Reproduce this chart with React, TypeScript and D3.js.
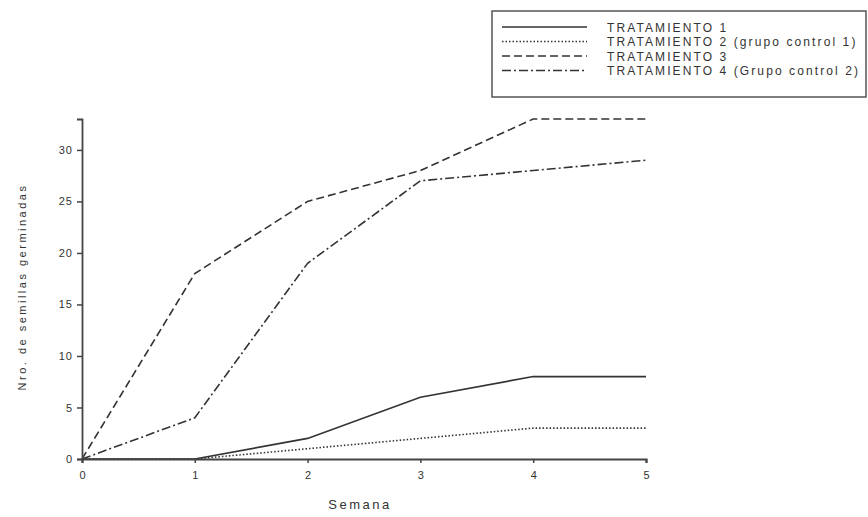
import React, { useEffect, useRef } from 'react';
import * as d3 from 'd3';

const weeks = [0, 1, 2, 3, 4, 5];
const tratamiento1 = [0, 0, 2, 6, 8, 8];
const tratamiento2 = [0, 0, 1, 2, 3, 3];
const tratamiento3 = [0, 18, 25, 28, 33, 33];
const tratamiento4 = [0, 4, 19, 27, 28, 29];
const seriesNames = [
  'TRATAMIENTO 1',
  'TRATAMIENTO 2 (grupo control 1)',
  'TRATAMIENTO 3',
  'TRATAMIENTO 4 (Grupo control 2)',
];
const yTicks = [0, 5, 10, 15, 20, 25, 30];

const dashes = ['none', '1.5,2', '8,4', '9,3,2,3'];

const App = () => {
  const svgRef = useRef<SVGSVGElement>(null);
  const width = 868;
  const height = 517;
  const margin = { top: 119, right: 222, bottom: 58, left: 82 };

  useEffect(() => {
    const svg = d3.select(svgRef.current);
    svg.selectAll('*').remove();

    const x = d3.scaleLinear().domain([0, 5]).range([margin.left, width - margin.right]);
    const y = d3.scaleLinear().domain([0, 33]).range([height - margin.bottom, margin.top]);

    const font = 'Liberation Sans, Arial, sans-serif';
    const axisColor = '#444';

    const all = [tratamiento1, tratamiento2, tratamiento3, tratamiento4];
    const line = d3.line<number>().x((_, i) => x(weeks[i])).y(d => y(d));

    all.forEach((vals, i) => {
      svg.append('path')
        .datum(vals)
        .attr('d', line)
        .attr('fill', 'none')
        .attr('stroke', '#333')
        .attr('stroke-width', 1.6)
        .attr('stroke-dasharray', dashes[i]);
    });

    // y axis
    const yAxis = svg.append('g')
      .attr('transform', `translate(${margin.left},0)`)
      .call(d3.axisLeft(y).tickValues(yTicks).tickSize(5).tickPadding(4));
    yAxis.select('.domain').attr('stroke', axisColor).attr('stroke-width', 1.8);
    yAxis.selectAll('.tick line').attr('stroke', axisColor).attr('stroke-width', 1.5);
    yAxis.selectAll('.tick text')
      .attr('font-family', font).attr('font-size', 11).attr('fill', '#333')
      .attr('letter-spacing', 1);

    // x axis
    const xAxis = svg.append('g')
      .attr('transform', `translate(0,${height - margin.bottom})`)
      .call(d3.axisBottom(x).tickValues(weeks).tickSize(4).tickPadding(8).tickFormat(d3.format('d')));
    xAxis.select('.domain').attr('stroke', axisColor).attr('stroke-width', 2.2);
    xAxis.selectAll('.tick line').attr('stroke', axisColor).attr('stroke-width', 1.5);
    xAxis.selectAll('.tick text').attr('font-family', font).attr('font-size', 11).attr('fill', '#333');

    // X-axis label
    svg.append('text')
      .attr('x', 360)
      .attr('y', 509)
      .attr('text-anchor', 'middle')
      .attr('font-family', font)
      .attr('font-size', 13)
      .attr('letter-spacing', 2.5)
      .attr('fill', '#333')
      .text('Semana');

    // Y-axis label
    svg.append('text')
      .attr('transform', 'rotate(-90)')
      .attr('x', -287)
      .attr('y', 26)
      .attr('text-anchor', 'middle')
      .attr('font-family', font)
      .attr('font-size', 11)
      .attr('letter-spacing', 2.5)
      .attr('fill', '#333')
      .text('Nro. de semillas germinadas');

    // legend
    const lg = svg.append('g');
    lg.append('rect')
      .attr('x', 492).attr('y', 11)
      .attr('width', 374).attr('height', 86)
      .attr('fill', 'none')
      .attr('stroke', '#555')
      .attr('stroke-width', 1.5);
    seriesNames.forEach((name, i) => {
      const ry = 27 + i * 14.5;
      lg.append('line')
        .attr('x1', 502).attr('x2', 587)
        .attr('y1', ry).attr('y2', ry)
        .attr('stroke', '#333')
        .attr('stroke-width', 1.6)
        .attr('stroke-dasharray', dashes[i]);
      lg.append('text')
        .attr('x', 607).attr('y', ry + 4.5)
        .attr('font-family', font)
        .attr('font-size', 12)
        .attr('letter-spacing', 2.1)
        .attr('fill', '#333')
        .text(name);
    });
  }, []);

  return <svg ref={svgRef} width={width} height={height} style={{ position: 'absolute', left: 0, top: 0 }}></svg>;
};

export default App;
